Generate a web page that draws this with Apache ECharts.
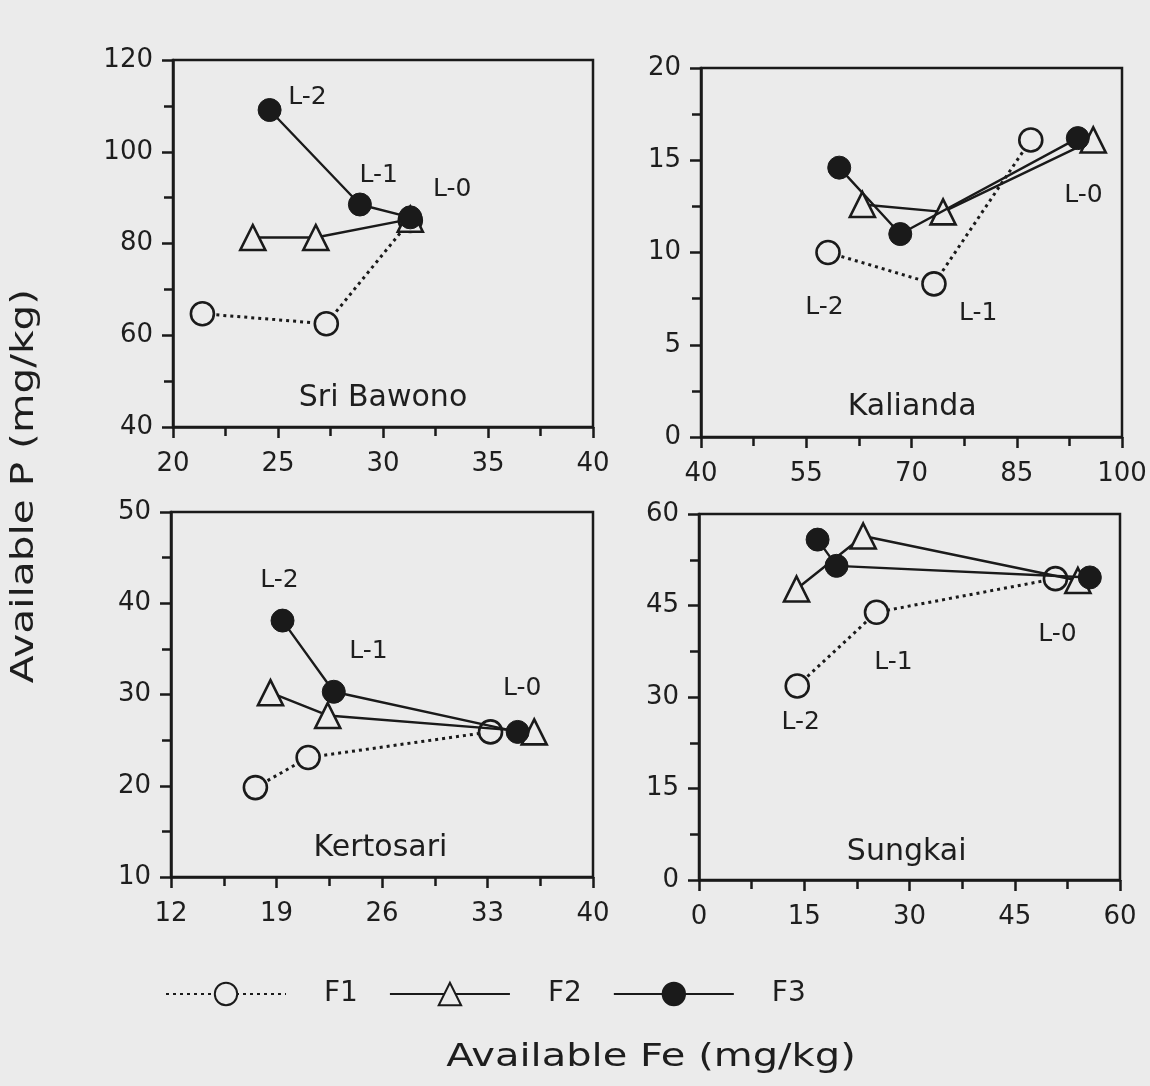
<!DOCTYPE html>
<html>
<head>
<meta charset="utf-8">
<script src="https://cdn.jsdelivr.net/npm/echarts@6/dist/echarts.min.js"></script>
<style>
html,body{margin:0;padding:0;background:#ebebeb;}
#chart{width:1150px;height:1086px;}
</style>
</head>
<body>
<div id="chart"></div>
<script>
// ---------- data ----------
const seriesNames = ['F1', 'F2', 'F3'];
const siteNames = ['Sri Bawono', 'Kalianda', 'Kertosari', 'Sungkai'];

// each point: [available Fe, available P], order L-2, L-1, L-0
const sriBawonoF1 = [[21.4, 64.7], [27.3, 62.5], [31.3, 85.0]];
const sriBawonoF2 = [[23.8, 81.3], [26.8, 81.3], [31.3, 85.3]];
const sriBawonoF3 = [[24.6, 109.1], [28.9, 88.5], [31.3, 85.7]];

const kaliandaF1 = [[58.1, 10.0], [73.2, 8.3], [87.0, 16.1]];
const kaliandaF2 = [[63.0, 12.6], [74.5, 12.2], [95.9, 16.1]];
const kaliandaF3 = [[59.7, 14.6], [68.4, 11.0], [93.7, 16.2]];

const kertosariF1 = [[17.6, 19.8], [21.1, 23.1], [33.2, 25.9]];
const kertosariF2 = [[18.6, 30.2], [22.4, 27.7], [36.1, 25.9]];
const kertosariF3 = [[19.4, 38.1], [22.8, 30.3], [35.0, 25.9]];

const sungkaiF1 = [[14.0, 31.8], [25.3, 43.9], [50.8, 49.4]];
const sungkaiF2 = [[13.9, 47.7], [23.4, 56.4], [54.0, 49.1]];
const sungkaiF3 = [[16.9, 55.8], [19.6, 51.5], [55.7, 49.6]];

// axis ranges: [min, max, interval]
const xRanges = [[20, 40, 5], [40, 100, 15], [12, 40, 7], [0, 60, 15]];
const yRanges = [[40, 120, 20], [0, 20, 5], [10, 50, 10], [0, 60, 15]];

// text annotations: [text, x, y] in data units
const sriBawonoLabels = [['L-2', 26.4, 111.9], ['L-1', 29.8, 94.9], ['L-0', 33.3, 91.7], ['Sri Bawono', 30.0, 46.3]];
const kaliandaLabels = [['L-2', 57.6, 7.0], ['L-1', 79.5, 6.7], ['L-0', 94.5, 13.1], ['Kalianda', 70.1, 1.6]];
const kertosariLabels = [['L-2', 19.2, 42.5], ['L-1', 25.1, 34.7], ['L-0', 35.3, 30.7], ['Kertosari', 25.9, 13.2]];
const sungkaiLabels = [['L-2', 14.5, 25.8], ['L-1', 27.7, 35.7], ['L-0', 51.1, 40.3], ['Sungkai', 29.6, 4.6]];

const yTitle = 'Available P (mg/kg)';
const xTitle = 'Available Fe (mg/kg)';

// ---------- build ----------
const FONT = 'DejaVu Sans';
const INK = '#1a1a1a';
const TXT = '#1e1e1e';
const BG = '#ebebeb';

const panels = [
  [sriBawonoF1, sriBawonoF2, sriBawonoF3],
  [kaliandaF1, kaliandaF2, kaliandaF3],
  [kertosariF1, kertosariF2, kertosariF3],
  [sungkaiF1, sungkaiF2, sungkaiF3]
];
const panelLabels = [sriBawonoLabels, kaliandaLabels, kertosariLabels, sungkaiLabels];

const grids = [
  {left: 173, top: 60, width: 420, height: 367},
  {left: 701, top: 68, width: 421, height: 369},
  {left: 171, top: 512, width: 422, height: 365},
  {left: 699, top: 514, width: 421, height: 366}
].map(g => Object.assign({show: true, borderColor: INK, borderWidth: 2.5, backgroundColor: 'transparent'}, g));

function axisCommon(r, isX) {
  return {
    type: 'value', min: r[0], max: r[1], interval: r[2],
    axisLine: {show: true, onZero: false, lineStyle: {color: INK, width: 2.5}},
    axisTick: {show: true, inside: false, length: 11, lineStyle: {color: INK, width: 2.5}},
    minorTick: {show: true, splitNumber: 2, length: 9, lineStyle: {color: INK, width: 2.5}},
    splitLine: {show: false},
    axisLabel: {color: TXT, fontFamily: FONT, fontSize: 26, margin: isX ? 24 : 20}
  };
}
const xAxes = xRanges.map((r, i) => Object.assign(axisCommon(r, true), {gridIndex: i}));
const yAxes = yRanges.map((r, i) => Object.assign(axisCommon(r, false), {gridIndex: i}));

const styles = {
  F1: {symbol: 'circle', symbolSize: 23, lineStyle: {color: INK, width: 3, type: [3, 4]},
       itemStyle: {color: BG, borderColor: INK, borderWidth: 2.6}, z: 2},
  F2: {symbol: 'triangle', symbolSize: 25, lineStyle: {color: INK, width: 2.4, type: 'solid'},
       itemStyle: {color: BG, borderColor: INK, borderWidth: 2.6}, z: 3},
  F3: {symbol: 'circle', symbolSize: 23, lineStyle: {color: INK, width: 2.4, type: 'solid'},
       itemStyle: {color: INK, borderColor: INK, borderWidth: 1}, z: 4}
};

const series = [];
panels.forEach((sets, p) => {
  sets.forEach((pts, k) => {
    const name = seriesNames[k];
    series.push(Object.assign({
      type: 'line', name: name, xAxisIndex: p, yAxisIndex: p,
      data: pts, showSymbol: true, animation: false, silent: true
    }, JSON.parse(JSON.stringify(styles[name]))));
  });
  series.push({
    type: 'scatter', name: 'labels' + p, xAxisIndex: p, yAxisIndex: p,
    symbolSize: 0, silent: true, animation: false, z: 5,
    itemStyle: {opacity: 1},
    data: panelLabels[p].map(l => ({
      value: [l[1], l[2]], name: l[0],
      label: {fontSize: l[0].startsWith('L-') ? 25 : 30, color: TXT}
    })),
    label: {
      show: true, position: 'inside', formatter: d => d.name,
      fontFamily: FONT, color: TXT, opacity: 1
    }
  });
});

const option = {
  backgroundColor: BG,
  animation: false,
  grid: grids,
  xAxis: xAxes,
  yAxis: yAxes,
  legend: {
    data: seriesNames,
    left: 160, top: 975,
    itemWidth: 120, itemHeight: 28, itemGap: 31,
    textStyle: {fontFamily: FONT, fontSize: 28, color: TXT, padding: [0, 0, 0, 33]},
    selectedMode: false
  },
  graphic: [
    {type: 'text', x: 25, y: 486, rotation: Math.PI / 2, scaleX: 1.27,
     style: {text: yTitle, fontFamily: FONT, fontSize: 32, fill: TXT, textAlign: 'center', textVerticalAlign: 'middle'}},
    {type: 'text', x: 651, y: 1058, scaleX: 1.25,
     style: {text: xTitle, fontFamily: FONT, fontSize: 32, fill: TXT, textAlign: 'center', textVerticalAlign: 'middle'}}
  ],
  series: series
};

const chart = echarts.init(document.getElementById('chart'), null, {renderer: 'canvas'});
chart.setOption(option);
</script>
</body>
</html>
